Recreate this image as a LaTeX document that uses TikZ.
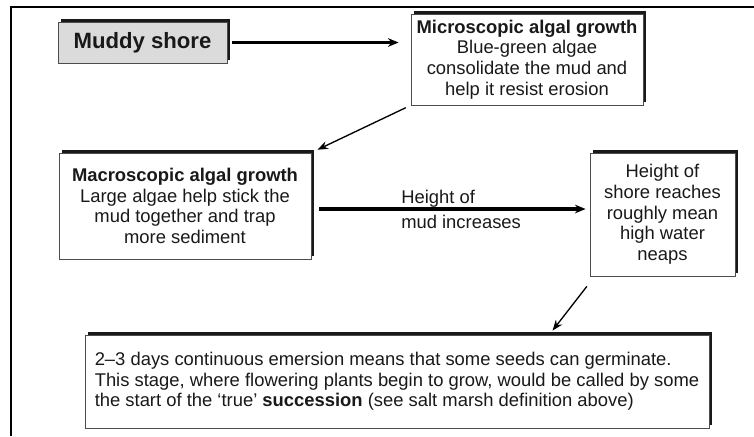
\documentclass[tikz,border=0pt]{standalone}
\usepackage{fontspec}
\setmainfont{Liberation Sans}
\usetikzlibrary{arrows.meta,shadows}

\begin{document}
\begin{tikzpicture}[x=0.75pt,y=0.75pt,yscale=-1,xscale=1,
  box/.style={draw=black!70, line width=0.6pt, fill=white, inner sep=0pt, align=center, text=black!90,
    font=\fontsize{13.8}{15.5}\selectfont,
    drop shadow={shadow xshift=2.3pt, shadow yshift=2.3pt, fill=black!90, opacity=1}},
  fat/.style={line width=2.3pt, -{Stealth[length=8pt,width=6.5pt]}},
  thin/.style={line width=1pt, -{Stealth[length=8pt,width=6pt]}}
]
\useasboundingbox (0,0) rectangle (754,436);

%Shape: Frame
\draw [line width=1.5pt] (10.5,436) -- (10.5,7) -- (754,7);

%Shape: Rectangle [muddy]
\node [box, fill=black!14, minimum width=126.75pt, minimum height=30.75pt, font=\fontsize{16.6}{18}\selectfont\bfseries] (muddy) at (142.5,42.5) {Muddy shore};
%Shape: Rectangle [micro]
\node [box, minimum width=174pt, minimum height=68.25pt] (micro) at (527,59.5) {{\bfseries Microscopic algal growth}\\Blue-green algae\\consolidate the mud and\\help it resist erosion};
%Shape: Rectangle [macro]
\node [box, minimum width=189pt, minimum height=79.5pt] (macro) at (185,206) {{\bfseries Macroscopic algal growth}\\Large algae help stick the\\mud together and trap\\more sediment};
%Shape: Rectangle [height]
\node [box, minimum width=108.75pt, minimum height=92.25pt] (height) at (662.5,214.5) {Height of\\shore reaches\\roughly mean\\high water\\neaps};
%Shape: Rectangle [note]
\node [box, align=left, minimum width=468pt, minimum height=69.75pt] (note) at (397,381.5) {2--3 days continuous emersion means that some seeds can germinate.\\This stage, where flowering plants begin to grow, would be called by some\\the start of the `true' \textbf{succession} (see salt marsh definition above)};

% Text Node
\node [anchor=west, align=left, inner sep=0pt, text=black!90, font=\fontsize{13.8}{15.5}\selectfont] (lbl) at (401,209) {Height of\\[3.25pt]mud increases};

%Straight Lines
\draw [fat, shorten <=3.75pt, shorten >=9pt] (muddy.east) -- (muddy.east -| micro.west);
\draw [thin, shorten <=4pt, shorten >=5pt] (micro.south west) -- (macro.north east);
\draw [fat, shorten <=6pt, shorten >=3pt] (macro.east |- lbl.west) -- (height.west |- lbl.west);
\draw [thin, shorten <=9.5pt, shorten >=3.8pt] ([xshift=3.75pt]height.south west) -- ([xshift=-120pt]note.north east);

\end{tikzpicture}
\end{document}
